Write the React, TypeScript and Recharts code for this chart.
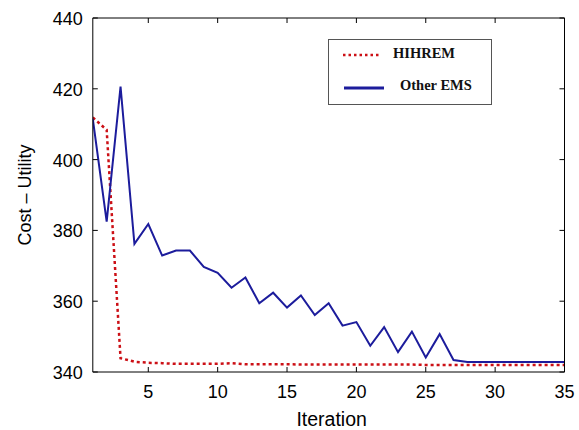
import React from "react";
import { LineChart, Line, XAxis, YAxis, Legend } from "recharts";

const iterations = [
    1, 2, 3, 4, 5, 6, 7, 8, 9, 10, 11, 12, 13, 14, 15, 16, 17, 18,
    19, 20, 21, 22, 23, 24, 25, 26, 27, 28, 29, 30, 31, 32, 33, 34, 35,
];

const hihrem = [
    411.9, 408.4, 343.9, 342.9, 342.6, 342.5, 342.3, 342.3, 342.3, 342.3, 342.5, 342.2,
    342.2, 342.2, 342.2, 342.1, 342.1, 342.1, 342.1, 342.1, 342.1, 342.1, 342.1, 342.1,
    342.0, 342.0, 342.0, 342.0, 342.0, 342.0, 342.0, 342.0, 342.0, 342.0, 342.0,
];

const otherEms = [
    411.5, 382.5, 420.6, 376.2, 381.8, 372.9, 374.3, 374.3, 369.7, 368.0, 363.8, 366.7,
    359.4, 362.4, 358.2, 361.6, 356.1, 359.4, 353.1, 354.1, 347.4, 352.7, 345.6, 351.4,
    344.1, 350.7, 343.4, 342.8, 342.8, 342.8, 342.8, 342.8, 342.8, 342.8, 342.8,
];

const xTicks = [5, 10, 15, 20, 25, 30, 35];
const yTicks = [340, 360, 380, 400, 420, 440];

const data = iterations.map((iter, i) => ({
    iter,
    hihrem: hihrem[i],
    other: otherEms[i],
}));

const FONT = '"Liberation Sans", Arial, sans-serif';
const SERIF = '"Liberation Serif", "Times New Roman", serif';
const TICK = 5;

// matlab style: ticks point into the plot box
const BottomTick = ({ x, y, payload }: any) => (
    <g>
        <line x1={x} x2={x} y1={y} y2={y - TICK} stroke="#000" />
        <text x={x} y={y + 26} textAnchor="middle" fontSize={18} fontFamily={FONT} fill="#000">
            {payload.value}
        </text>
    </g>
);

const TopTick = ({ x, y }: any) => (
    <line x1={x} x2={x} y1={y} y2={y + TICK} stroke="#000" />
);

const LeftTick = ({ x, y, payload }: any) => (
    <g>
        <line x1={x} x2={x + TICK} y1={y} y2={y} stroke="#000" />
        <text x={x - 10} y={y + 7} textAnchor="end" fontSize={18} fontFamily={FONT} fill="#000">
            {payload.value}
        </text>
    </g>
);

const RightTick = ({ x, y }: any) => (
    <line x1={x} x2={x - TICK} y1={y} y2={y} stroke="#000" />
);

const LegendBox = ({ payload }: any) => (
    <svg width={164} height={66}>
        <rect x={0.5} y={0.5} width={163} height={65} fill="#fff" stroke="#555" />
        {(payload || []).map((entry: any, i: number) => {
            const dotted = !!entry.payload?.strokeDasharray;
            const cy = 16 + i * 33;
            return (
                <g key={entry.value}>
                    <line
                        x1={dotted ? 15 : 16}
                        x2={dotted ? 53 : 56}
                        y1={cy}
                        y2={cy}
                        stroke={entry.color}
                        strokeWidth={dotted ? 2.5 : 3}
                        strokeDasharray={dotted ? "2.5 3" : undefined}
                    />
                    <text
                        x={dotted ? 65 : 72}
                        y={cy + (dotted ? 3 : 2)}
                        fontFamily={SERIF}
                        fontWeight="bold"
                        fontSize={14.5}
                        fill="#111"
                    >
                        {entry.value}
                    </text>
                </g>
            );
        })}
    </svg>
);

const App = () => {
    return (
        <div
            style={{
                position: "absolute",
                left: 0,
                top: 0,
                width: 579,
                height: 430,
                overflow: "hidden",
                background: "#fff",
            }}
        >
            <LineChart
                width={579}
                height={430}
                data={data}
                margin={{ top: 17, right: 13.5, bottom: 0, left: 0 }}
            >
                <XAxis
                    xAxisId="b"
                    dataKey="iter"
                    type="number"
                    domain={[1, 35]}
                    ticks={xTicks}
                    allowDataOverflow
                    height={58}
                    tickSize={0}
                    tickMargin={0}
                    tickLine={false}
                    axisLine={{ stroke: "#000" }}
                    tick={<BottomTick />}
                    interval={0}
                    label={{
                        value: "Iteration",
                        position: "insideBottom",
                        offset: 4,
                        dx: 3,
                        fontSize: 19.5,
                        fontFamily: FONT,
                        fill: "#000",
                    }}
                />
                <XAxis
                    xAxisId="t"
                    orientation="top"
                    dataKey="iter"
                    type="number"
                    domain={[1, 35]}
                    ticks={xTicks}
                    allowDataOverflow
                    height={1}
                    tickSize={0}
                    tickMargin={0}
                    tickLine={false}
                    axisLine={{ stroke: "#000" }}
                    tick={<TopTick />}
                    interval={0}
                />
                <YAxis
                    yAxisId="l"
                    domain={[340, 440]}
                    ticks={yTicks}
                    allowDataOverflow
                    width={92.8}
                    tickSize={0}
                    tickMargin={0}
                    tickLine={false}
                    axisLine={{ stroke: "#000" }}
                    tick={<LeftTick />}
                    interval={0}
                    label={({ viewBox }: any) => (
                        <text
                            transform={`translate(${viewBox.x + 31}, ${viewBox.y + viewBox.height / 2}) rotate(-90)`}
                            textAnchor="middle"
                            fontSize={18}
                            fontFamily={FONT}
                            fill="#000"
                        >
                            Cost – Utility
                        </text>
                    )}
                />
                <YAxis
                    yAxisId="r"
                    orientation="right"
                    domain={[340, 440]}
                    ticks={yTicks}
                    allowDataOverflow
                    width={1}
                    tickSize={0}
                    tickMargin={0}
                    tickLine={false}
                    axisLine={{ stroke: "#000" }}
                    tick={<RightTick />}
                    interval={0}
                />
                <Legend
                    layout="vertical"
                    align="center"
                    verticalAlign="middle"
                    wrapperStyle={{ left: 328, top: 39, width: 164, height: 66 }}
                    content={<LegendBox />}
                />
                <Line
                    xAxisId="b"
                    yAxisId="l"
                    type="linear"
                    dataKey="hihrem"
                    name="HIHREM"
                    stroke="#cc1016"
                    strokeWidth={2.5}
                    strokeDasharray="3 3"
                    dot={false}
                    isAnimationActive={false}
                />
                <Line
                    xAxisId="b"
                    yAxisId="l"
                    type="linear"
                    dataKey="other"
                    name="Other EMS"
                    stroke="#1c1c9c"
                    strokeWidth={2}
                    dot={false}
                    isAnimationActive={false}
                />
            </LineChart>
        </div>
    );
};

export default App;
